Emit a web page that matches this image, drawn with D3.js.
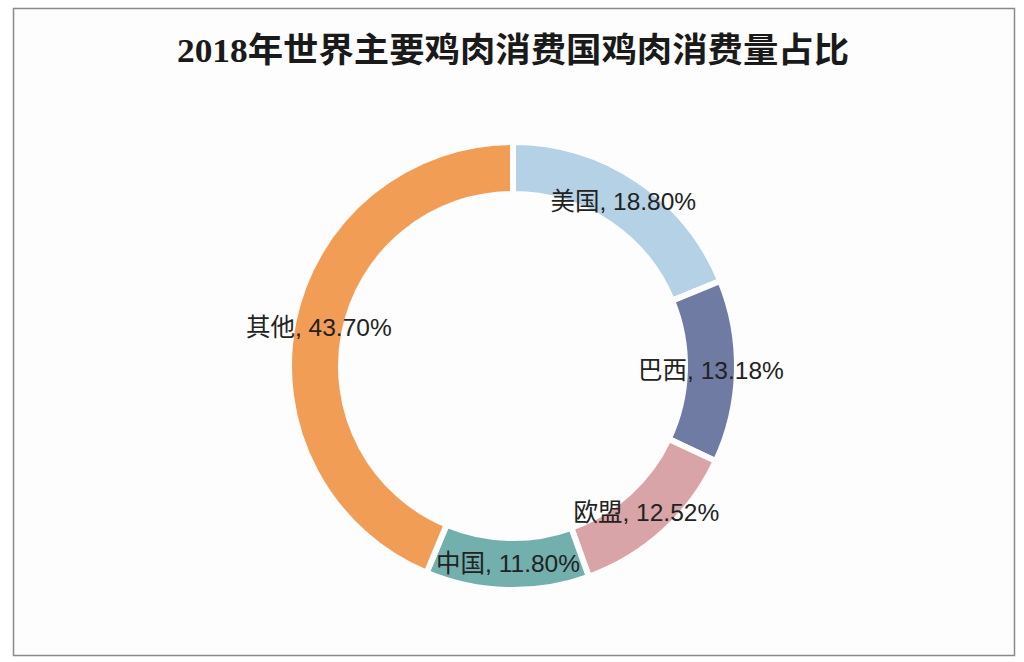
<!DOCTYPE html>
<html><head><meta charset="utf-8">
<script src="https://cdn.jsdelivr.net/npm/d3@7"></script>
<style>body{margin:0;background:#fff;}svg{display:block;}</style>
</head><body>
<svg id="c" width="1024" height="662"></svg>
<script>
const categories = ["美国", "巴西", "欧盟", "中国", "其他"];
const values = [18.80, 13.18, 12.52, 11.80, 43.70];
const colors = ["#b5d1e5", "#6f7ba2", "#d9a4a7", "#72afad", "#f19d56"];
const title = "2018年世界主要鸡肉消费国鸡肉消费量占比";

const svg = d3.select("#c");
svg.append("rect").attr("x", 0).attr("y", 0).attr("width", 1024).attr("height", 662).attr("fill", "#ffffff");
svg.append("rect").attr("x", 13.5).attr("y", 8.5).attr("width", 1001).attr("height", 647)
  .attr("fill", "#fdfdfd").attr("stroke", "#8a8a8a").attr("stroke-width", 1.5);

svg.append("text").attr("x", 513).attr("y", 50)
  .attr("text-anchor", "middle").attr("dominant-baseline", "central")
  .attr("font-family", "'Liberation Serif','Noto Sans CJK SC',serif")
  .attr("font-weight", "bold").attr("font-size", 34).attr("fill", "#1a1a1a")
  .attr("textLength", 672).attr("lengthAdjust", "spacingAndGlyphs")
  .text(title);

const cx = 513, cy = 366, R = 224, r = 172;
const data = categories.map((c, i) => ({cat: c, val: values[i], color: colors[i]}));
const pie = d3.pie().value(d => d.val).sort(null);
const arc = d3.arc().innerRadius(r).outerRadius(R);
const labelArc = d3.arc().innerRadius((R + r) / 2).outerRadius((R + r) / 2);
const g = svg.append("g").attr("transform", `translate(${cx},${cy})`);
const arcs = pie(data);
g.selectAll("path").data(arcs).join("path")
  .attr("d", arc).attr("fill", d => d.data.color)
  .attr("stroke", "#fdfdfd").attr("stroke-width", 6).attr("stroke-linejoin", "miter");
g.selectAll("text").data(arcs).join("text")
  .attr("transform", d => `translate(${labelArc.centroid(d)})`)
  .attr("text-anchor", "middle").attr("dominant-baseline", "central")
  .attr("font-family", "'Liberation Sans','Noto Sans CJK SC',sans-serif")
  .attr("font-size", 24.5).attr("fill", "#222")
  .text(d => `${d.data.cat}, ${d.data.val.toFixed(2)}%`);
</script>
</body></html>
